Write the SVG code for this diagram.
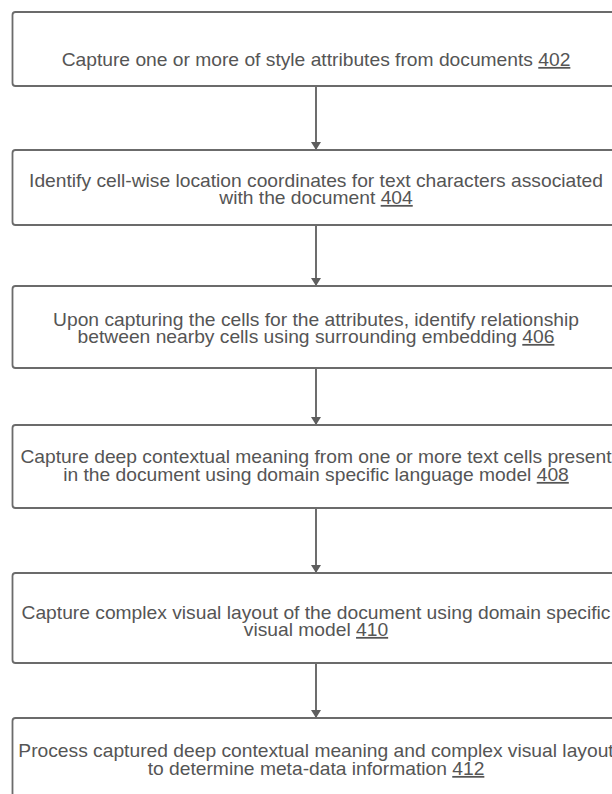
<svg xmlns="http://www.w3.org/2000/svg" width="612" height="794" viewBox="0 0 612 794">
  <style>
    .box { fill: #ffffff; stroke: #6b6b6b; stroke-width: 1.8; }
    .lbl { font-family: "Liberation Sans", Arial, sans-serif; font-size: 17.5px; fill: #555555; text-anchor: middle; }
    .ref { text-decoration: underline; }
    .link { stroke: #5e5e5e; stroke-width: 1.8; fill: none; marker-end: url(#head); }
  </style>
  <defs>
    <marker id="head" viewBox="0 0 8 12" refX="8" refY="6" markerWidth="8" markerHeight="12" markerUnits="userSpaceOnUse" orient="auto">
      <path d="M0,1 L8,6 L0,11 z" fill="#5e5e5e"/>
    </marker>
  </defs>
  <rect width="612" height="794" fill="#ffffff"/>

  <!-- connectors between consecutive steps -->
  <g id="connectors">
    <line class="link" x1="316" y1="86" x2="316" y2="150"/>
    <line class="link" x1="316" y1="225" x2="316" y2="286"/>
    <line class="link" x1="316" y1="368" x2="316" y2="425"/>
    <line class="link" x1="316" y1="508" x2="316" y2="573"/>
    <line class="link" x1="316" y1="663" x2="316" y2="718"/>
  </g>

  <g id="step-402">
    <rect class="box" x="12.5" y="12" width="607" height="74" rx="3"/>
    <g transform="translate(316,0) scale(1.1,1)">
      <text class="lbl" x="0" y="66">Capture one or more of style attributes from documents <tspan class="ref">402</tspan></text>
    </g>
  </g>

  <g id="step-404">
    <rect class="box" x="12.5" y="150" width="607" height="75" rx="3"/>
    <g transform="translate(316,0) scale(1.1,1)">
      <text class="lbl"><tspan x="0" y="187">Identify cell-wise location coordinates for text characters associated</tspan><tspan x="0" y="204">with the document <tspan class="ref">404</tspan></tspan></text>
    </g>
  </g>

  <g id="step-406">
    <rect class="box" x="12.5" y="286" width="607" height="82" rx="3"/>
    <g transform="translate(316,0) scale(1.1,1)">
      <text class="lbl"><tspan x="0" y="326">Upon capturing the cells for the attributes, identify relationship</tspan><tspan x="0" y="343">between nearby cells using surrounding embedding <tspan class="ref">406</tspan></tspan></text>
    </g>
  </g>

  <g id="step-408">
    <rect class="box" x="12.5" y="425" width="607" height="83" rx="3"/>
    <g transform="translate(316,0) scale(1.1,1)">
      <text class="lbl"><tspan x="0" y="463">Capture deep contextual meaning from one or more text cells present</tspan><tspan x="0" y="481">in the document using domain specific language model <tspan class="ref">408</tspan></tspan></text>
    </g>
  </g>

  <g id="step-410">
    <rect class="box" x="12.5" y="573" width="607" height="90" rx="3"/>
    <g transform="translate(316,0) scale(1.1,1)">
      <text class="lbl"><tspan x="0" y="619">Capture complex visual layout of the document using domain specific</tspan><tspan x="0" y="636">visual model <tspan class="ref">410</tspan></tspan></text>
    </g>
  </g>

  <g id="step-412">
    <rect class="box" x="12.5" y="718" width="607" height="90" rx="3"/>
    <g transform="translate(316,0) scale(1.1,1)">
      <text class="lbl"><tspan x="0" y="757">Process captured deep contextual meaning and complex visual layout</tspan><tspan x="0" y="775">to determine meta-data information <tspan class="ref">412</tspan></tspan></text>
    </g>
  </g>
</svg>
